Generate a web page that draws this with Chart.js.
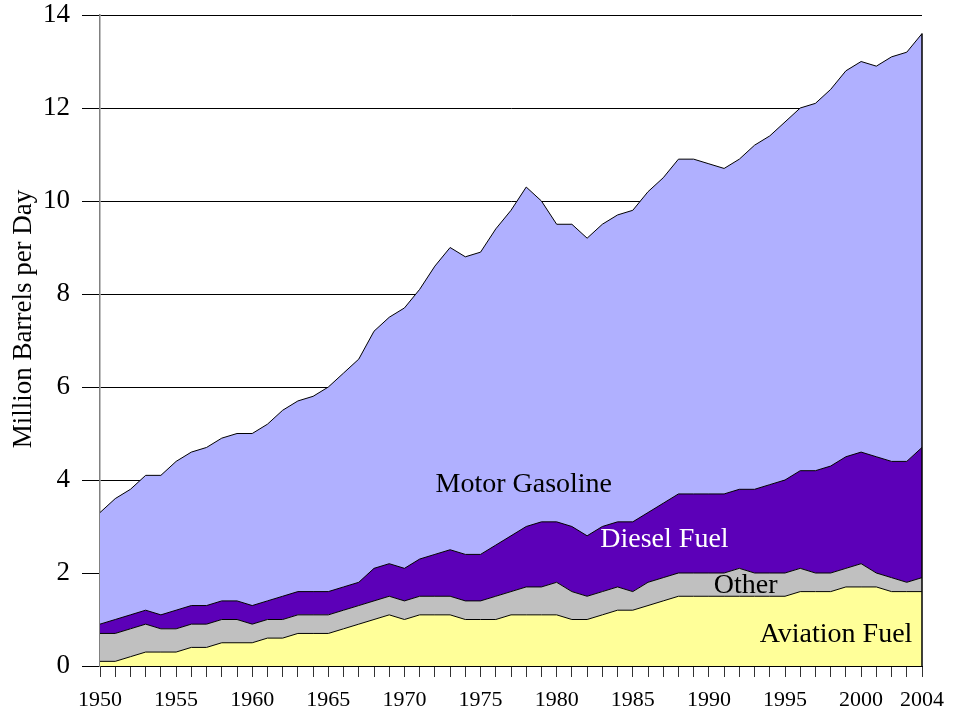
<!DOCTYPE html>
<html>
<head>
<meta charset="utf-8">
<script src="https://cdn.jsdelivr.net/npm/chart.js@4/dist/chart.umd.min.js"></script>
<style>
  html, body { margin: 0; padding: 0; background: #ffffff; }
  #wrap { width: 954px; height: 713px; position: relative; }
</style>
</head>
<body>
<div id="wrap"><canvas id="chart"></canvas></div>
<script>
const years = [
    "1950", "1951", "1952", "1953", "1954", "1955", "1956", "1957", "1958", "1959",
    "1960", "1961", "1962", "1963", "1964", "1965", "1966", "1967", "1968", "1969",
    "1970", "1971", "1972", "1973", "1974", "1975", "1976", "1977", "1978", "1979",
    "1980", "1981", "1982", "1983", "1984", "1985", "1986", "1987", "1988", "1989",
    "1990", "1991", "1992", "1993", "1994", "1995", "1996", "1997", "1998", "1999",
    "2000", "2001", "2002", "2003", "2004",
];

const aviationFuel = [
    0.1, 0.1, 0.2, 0.3, 0.3, 0.3, 0.4, 0.4, 0.5, 0.5,
    0.5, 0.6, 0.6, 0.7, 0.7, 0.7, 0.8, 0.9, 1.0, 1.1,
    1.0, 1.1, 1.1, 1.1, 1.0, 1.0, 1.0, 1.1, 1.1, 1.1,
    1.1, 1.0, 1.0, 1.1, 1.2, 1.2, 1.3, 1.4, 1.5, 1.5,
    1.5, 1.5, 1.5, 1.5, 1.5, 1.5, 1.6, 1.6, 1.6, 1.7,
    1.7, 1.7, 1.6, 1.6, 1.6,
];

const otherFuel = [
    0.6, 0.6, 0.6, 0.6, 0.5, 0.5, 0.5, 0.5, 0.5, 0.5,
    0.4, 0.4, 0.4, 0.4, 0.4, 0.4, 0.4, 0.4, 0.4, 0.4,
    0.4, 0.4, 0.4, 0.4, 0.4, 0.4, 0.5, 0.5, 0.6, 0.6,
    0.7, 0.6, 0.5, 0.5, 0.5, 0.4, 0.5, 0.5, 0.5, 0.5,
    0.5, 0.5, 0.6, 0.5, 0.5, 0.5, 0.5, 0.4, 0.4, 0.4,
    0.5, 0.3, 0.3, 0.2, 0.3,
];

const dieselFuel = [
    0.2, 0.3, 0.3, 0.3, 0.3, 0.4, 0.4, 0.4, 0.4, 0.4,
    0.4, 0.4, 0.5, 0.5, 0.5, 0.5, 0.5, 0.5, 0.7, 0.7,
    0.7, 0.8, 0.9, 1.0, 1.0, 1.0, 1.1, 1.2, 1.3, 1.4,
    1.3, 1.4, 1.3, 1.4, 1.4, 1.5, 1.5, 1.6, 1.7, 1.7,
    1.7, 1.7, 1.7, 1.8, 1.9, 2.0, 2.1, 2.2, 2.3, 2.4,
    2.4, 2.5, 2.5, 2.6, 2.8,
];

const motorGasoline = [
    2.4, 2.6, 2.7, 2.9, 3.0, 3.2, 3.3, 3.4, 3.5, 3.6,
    3.7, 3.8, 4.0, 4.1, 4.2, 4.4, 4.6, 4.8, 5.1, 5.3,
    5.6, 5.8, 6.2, 6.5, 6.4, 6.5, 6.8, 7.0, 7.3, 6.9,
    6.4, 6.5, 6.4, 6.5, 6.6, 6.7, 6.9, 7.0, 7.2, 7.2,
    7.1, 7.0, 7.1, 7.4, 7.5, 7.7, 7.8, 7.9, 8.1, 8.3,
    8.4, 8.4, 8.7, 8.8, 8.9,
];

const seriesNames = ["Aviation Fuel", "Other", "Diesel Fuel", "Motor Gasoline"];
const yTicks = [0, 2, 4, 6, 8, 10, 12, 14];
const labeledYears = ["1950", "1955", "1960", "1965", "1970", "1975", "1980", "1985", "1990", "1995", "2000", "2004"];

const serif = "'Liberation Serif', 'Times New Roman', serif";

// where each in-chart label sits, in (year index, value) space
const areaLabels = [
    { text: "Motor Gasoline", x: 27.84, y: 3.91, color: "#000000" },
    { text: "Diesel Fuel", x: 37.08, y: 2.71, color: "#ffffff" },
    { text: "Other", x: 42.41, y: 1.72, color: "#000000" },
    { text: "Aviation Fuel", x: 48.35, y: 0.67, color: "#000000" },
];

const areaDecor = {
    id: "areaDecor",
    afterDatasetsDraw(chart) {
        const { ctx, scales } = chart;
        const x = scales.x;
        const y = scales.y;
        const last = years.length - 1;
        const top = aviationFuel[last] + otherFuel[last] + dieselFuel[last] + motorGasoline[last];

        ctx.save();
        // right edge of the stacked area
        ctx.strokeStyle = "#000000";
        ctx.lineWidth = 1.5;
        ctx.beginPath();
        ctx.moveTo(x.getPixelForValue(last), y.getPixelForValue(top));
        ctx.lineTo(x.getPixelForValue(last), y.getPixelForValue(0));
        ctx.stroke();

        ctx.font = "28px " + serif;
        ctx.textAlign = "center";
        ctx.textBaseline = "middle";
        areaLabels.forEach((lbl) => {
            ctx.fillStyle = lbl.color;
            ctx.fillText(lbl.text, x.getPixelForValue(lbl.x), y.getPixelForValue(lbl.y));
        });

        // axis title
        ctx.translate(24, 319);
        ctx.rotate(-Math.PI / 2);
        ctx.fillStyle = "#000000";
        ctx.font = "27px " + serif;
        ctx.fillText("Million Barrels per Day", 0, 0);
        ctx.restore();
    },
};

const makeSet = (label, data, color, fill) => ({
    label,
    data,
    backgroundColor: color,
    borderColor: "#000000",
    borderWidth: 1,
    fill,
    tension: 0,
    pointRadius: 0,
    pointHoverRadius: 0,
});

new Chart(document.getElementById("chart"), {
    type: "line",
    data: {
        labels: years,
        datasets: [
            makeSet(seriesNames[0], aviationFuel, "#ffff99", "origin"),
            makeSet(seriesNames[1], otherFuel, "#c0c0c0", "-1"),
            makeSet(seriesNames[2], dieselFuel, "#5c00b8", "-1"),
            makeSet(seriesNames[3], motorGasoline, "#b0b0ff", "-1"),
        ],
    },
    options: {
        responsive: true,
        maintainAspectRatio: false,
        animation: false,
        layout: { padding: { top: 15, right: 32, bottom: 0, left: 0 } },
        plugins: {
            legend: { display: false },
            tooltip: { enabled: false },
        },
        scales: {
            x: {
                offset: false,
                afterFit: (scale) => {
                    scale.height = 47;
                    scale.paddingLeft = 0;
                    scale.paddingRight = 0;
                },
                border: { color: "#000000", width: 1 },
                grid: {
                    drawOnChartArea: false,
                    drawTicks: true,
                    tickLength: 11,
                    color: "#333333",
                },
                ticks: {
                    autoSkip: false,
                    maxRotation: 0,
                    padding: 10,
                    color: "#000000",
                    font: { family: serif, size: 22 },
                    callback: (value, index) => (labeledYears.includes(years[index]) ? years[index] : ""),
                },
            },
            y: {
                stacked: true,
                min: 0,
                max: 14,
                afterFit: (scale) => {
                    scale.width = 100;
                    scale.paddingTop = 0;
                    scale.paddingBottom = 0;
                },
                afterBuildTicks: (scale) => { scale.ticks = yTicks.map((v) => ({ value: v })); },
                border: { color: "#808080", width: 1.5 },
                grid: {
                    color: "#000000",
                    lineWidth: 1,
                    drawTicks: true,
                    tickLength: 18,
                },
                ticks: {
                    padding: 12,
                    color: "#000000",
                    font: { family: serif, size: 27 },
                },
            },
        },
    },
    plugins: [areaDecor],
});
</script>
</body>
</html>
